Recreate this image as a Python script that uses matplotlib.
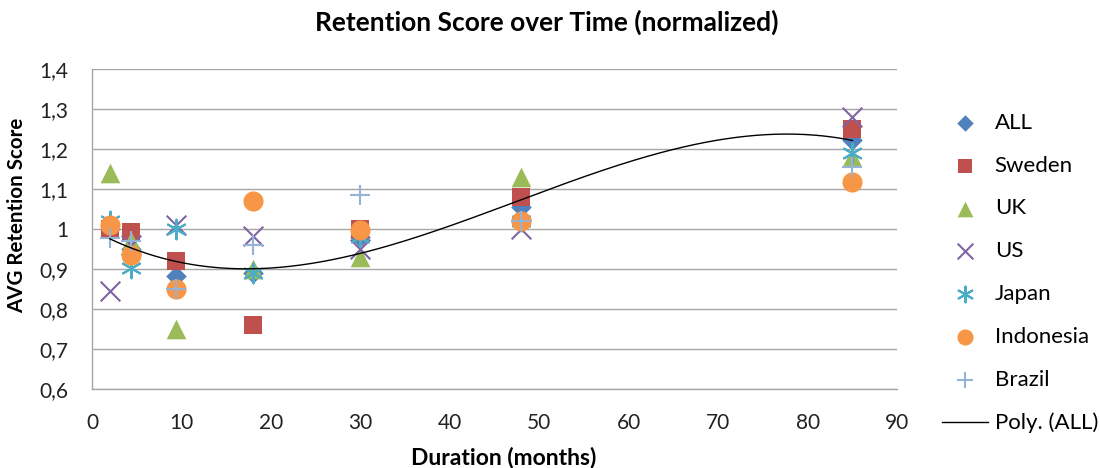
"""
Retention score over time (normalized) - scatter by country with cubic trend of ALL.
"""

import matplotlib.pyplot as plt
from matplotlib.ticker import FuncFormatter
import numpy as np

# duration in months for every group
months = [2, 4.4, 9.4, 18, 30, 48, 85]

# average retention score per series
all_avg = [1.00, 0.95, 0.883, 0.89, 0.98, 1.055, 1.223]
sweden = [1.00, 0.993, 0.92, 0.759, 1.00, 1.08, 1.251]
uk = [1.14, 0.97, 0.75, 0.90, 0.93, 1.13, 1.18]
us = [0.844, 0.96, 1.01, 0.983, 0.95, 1.00, 1.279]
japan = [1.02, 0.902, 1.00, 0.89, 0.98, 1.02, 1.19]
indonesia = [1.01, 0.935, 0.849, 1.07, 0.997, 1.02, 1.117]
brazil = [0.977, 0.969, 0.85, 0.96, 1.084, 1.02, 1.156]

series_names = ['ALL', 'Sweden', 'UK', 'US', 'Japan', 'Indonesia', 'Brazil']
series_vals = [all_avg, sweden, uk, us, japan, indonesia, brazil]

# Excel 2010 default palette
colours = ['#4F81BD', '#C0504D', '#9BBB59', '#8064A2', '#4BACC6', '#F79646', '#95B3D7']
markers = ['D', 's', '^', 'x', (6, 2, 0), 'o', '+']
sizes = [110, 170, 200, 200, 200, 210, 200]

FONT = 'Lato'
GRID = '#A6A6A6'


def fmt_y(v, pos):
    if abs(v - 1) < 1e-9:
        return '1'
    return f'{v:.1f}'.replace('.', ',')


def main():
    plt.rcParams['font.family'] = [FONT, 'DejaVu Sans']

    fig = plt.figure(figsize=(11, 4.68), dpi=100)
    ax = fig.add_axes([0.0836, 0.1688, 0.7319, 0.6838])

    for name, vals, c, m, s in zip(series_names, series_vals, colours, markers, sizes):
        lw = 1.5 if m in ('x', '+', (6, 2, 0)) else 0
        ax.scatter(months, vals, s=s, marker=m, color=c, linewidths=lw,
                   label=name, zorder=3)

    # 3rd order polynomial trendline through ALL
    coef = np.polyfit(months, all_avg, 3)
    xs = np.linspace(min(months), max(months), 300)
    ax.plot(xs, np.polyval(coef, xs), color='black', lw=1, label='Poly. (ALL)', zorder=4)

    ax.set_xlim(0, 90)
    ax.set_ylim(0.6, 1.4)
    ax.set_xticks(range(0, 91, 10))
    ax.set_yticks(np.arange(0.6, 1.41, 0.1))
    ax.yaxis.set_major_formatter(FuncFormatter(fmt_y))
    ax.tick_params(length=0, labelsize=15, colors='#222222', pad=17)

    ax.grid(axis='y', color=GRID, lw=1)
    ax.set_axisbelow(True)
    for side in ('top', 'right'):
        ax.spines[side].set_visible(False)
    for side in ('left', 'bottom'):
        ax.spines[side].set_color(GRID)
        ax.spines[side].set_linewidth(1)

    fig.text(0.497, 0.953, 'Retention Score over Time (normalized)', fontsize=19,
             fontweight='bold', ha='center', va='center')
    ax.set_xlabel('Duration (months)', fontsize=16.5, fontweight='bold', va='center')
    ax.xaxis.set_label_coords(0.511, -0.2125)
    ax.set_ylabel('AVG Retention Score', fontsize=14.8, fontweight='bold', va='center')
    ax.yaxis.set_label_coords(-0.0932, 0.544)

    ax.legend(loc='upper left', bbox_to_anchor=(1.031, 0.926), frameon=False,
              fontsize=16, markerscale=0.8, handlelength=2.07, labelspacing=1.03,
              handletextpad=0.3, scatterpoints=1)

    fig.savefig('out.png', dpi=100)


if __name__ == "__main__":
    main()
